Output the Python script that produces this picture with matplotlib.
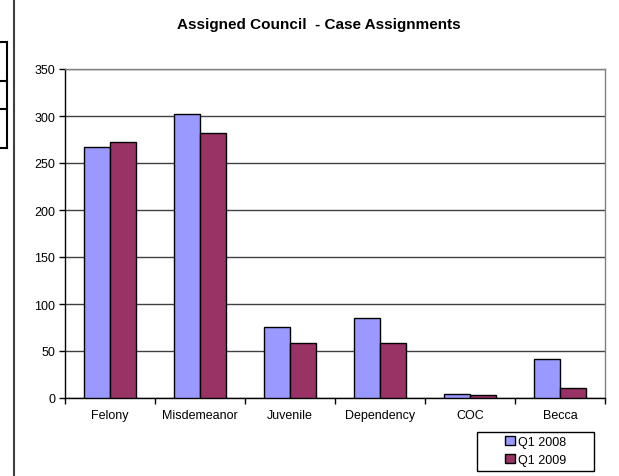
import numpy as np
import matplotlib
matplotlib.use("Agg")
import matplotlib.pyplot as plt
from matplotlib.lines import Line2D
from matplotlib.patches import Rectangle

plt.rcParams['font.family'] = ['Liberation Sans', 'DejaVu Sans']

# data
categories = ['Felony', 'Misdemeanor', 'Juvenile', 'Dependency', 'COC', 'Becca']
q1_2008 = [267, 302, 76, 85, 4, 42]
q1_2009 = [272, 282, 59, 58, 3, 11]
series_names = ['Q1 2008', 'Q1 2009']
yticks = [0, 50, 100, 150, 200, 250, 300, 350]

W, H = 619, 477
fig = plt.figure(figsize=(W / 100, H / 100), dpi=100)

# plot area in pixels: left 65, right 605, top 70, bottom 399
ax = fig.add_axes([65 / W, (H - 399) / H, 540 / W, 329 / H])

x = np.arange(len(categories))
bw = 0.29
ax.bar(x - bw / 2, q1_2008, bw, color='#9999FF', edgecolor='black', linewidth=1, label=series_names[0], zorder=3)
ax.bar(x + bw / 2, q1_2009, bw, color='#993366', edgecolor='black', linewidth=1, label=series_names[1], zorder=3)

ax.set_xlim(-0.5, len(categories) - 0.5)
ax.set_ylim(0, 350)
ax.set_yticks(yticks)
ax.tick_params(axis='y', length=4, width=1, labelsize=9, pad=3, direction='out')

# category borders as major ticks, labels on minor ticks
ax.set_xticks(np.arange(-0.5, len(categories) + 0.5, 1))
ax.set_xticklabels([])
ax.set_xticks(x, minor=True)
ax.set_xticklabels(categories, minor=True)
ax.tick_params(axis='x', which='major', length=4, width=1, direction='out')
ax.tick_params(axis='x', which='minor', length=0, labelsize=9, pad=8)

ax.grid(axis='y', color='#404040', linewidth=1, zorder=0)
ax.spines['left'].set_color('black')
ax.spines['bottom'].set_color('black')
ax.spines['top'].set_color('#808080')
ax.spines['right'].set_color('#808080')
for s in ax.spines.values():
    s.set_linewidth(1)

fig.text(319 / W, 1 - 25 / H, 'Assigned Council  - Case Assignments',
         ha='center', va='center', fontsize=11, fontweight='bold')

# legend box drawn separately (Excel style: wide frame)
fig.add_artist(Rectangle((477 / W, 1 - 472 / H), 117 / W, 39 / H,
                         transform=fig.transFigure, facecolor='white',
                         edgecolor='black', linewidth=1))
leg = fig.legend(loc='center', bbox_to_anchor=(535.5 / W, 1 - 452 / H),
                 fontsize=9, frameon=False, handlelength=0.75, handleheight=0.75,
                 handletextpad=0.25, labelspacing=0.45, borderpad=0,
                 borderaxespad=0)

# bits of the surrounding document page
fig.add_artist(Line2D([14 / W, 14 / W], [0, 1], color='#404040', linewidth=1.5))
fig.add_artist(Line2D([7 / W, 7 / W], [1 - 43 / H, 1 - 149 / H], color='black', linewidth=1.5))
for yy in [43, 82, 110, 149]:
    fig.add_artist(Line2D([0, 7 / W], [1 - yy / H, 1 - yy / H], color='black', linewidth=1.5))

fig.savefig('out.png', dpi=100)
